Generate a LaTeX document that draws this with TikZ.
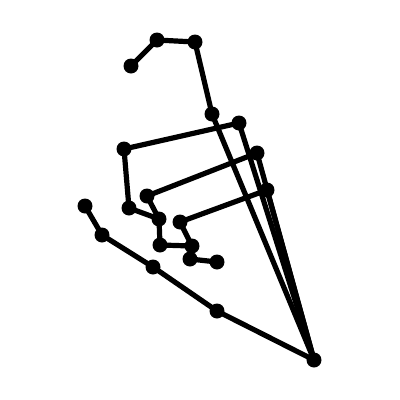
\documentclass[tikz,border=0pt]{standalone}
\begin{document}
\begin{tikzpicture}[x=1pt,y=-1pt,
  dot/.style={circle,fill=black,inner sep=0pt,minimum size=15pt},
  edge/.style={line width=5.2pt,black}]
\useasboundingbox (0,0) rectangle (400,400);
\node[dot] (A) at (131,66) {};
\node[dot] (B) at (157,40) {};
\node[dot] (C) at (195,42) {};
\node[dot] (D) at (212,114) {};
\node[dot] (E) at (239,123) {};
\node[dot] (F) at (124,149) {};
\node[dot] (G) at (257,153) {};
\node[dot] (H) at (267,190) {};
\node[dot] (I) at (147,196) {};
\node[dot] (J) at (129,208) {};
\node[dot] (K) at (159,219) {};
\node[dot] (L) at (180,222) {};
\node[dot] (M) at (160,245) {};
\node[dot] (N) at (192,246) {};
\node[dot] (O) at (190,259) {};
\node[dot] (P) at (217,262) {};
\node[dot] (Q) at (85,206) {};
\node[dot] (R) at (102,235) {};
\node[dot] (S) at (153,267) {};
\node[dot] (T) at (217,311) {};
\node[dot] (U) at (314,360) {};
\draw[edge] (A.center) -- (B.center) -- (C.center) -- (D.center) -- (U.center);
\draw[edge] (U.center) -- (E.center) -- (F.center) -- (J.center) -- (K.center) -- (M.center) -- (N.center) -- (O.center) -- (P.center);
\draw[edge] (U.center) -- (G.center) -- (I.center) -- (K.center);
\draw[edge] (U.center) -- (H.center) -- (L.center) -- (N.center);
\draw[edge] (Q.center) -- (R.center) -- (S.center) -- (T.center) -- (U.center);
\end{tikzpicture}
\end{document}
